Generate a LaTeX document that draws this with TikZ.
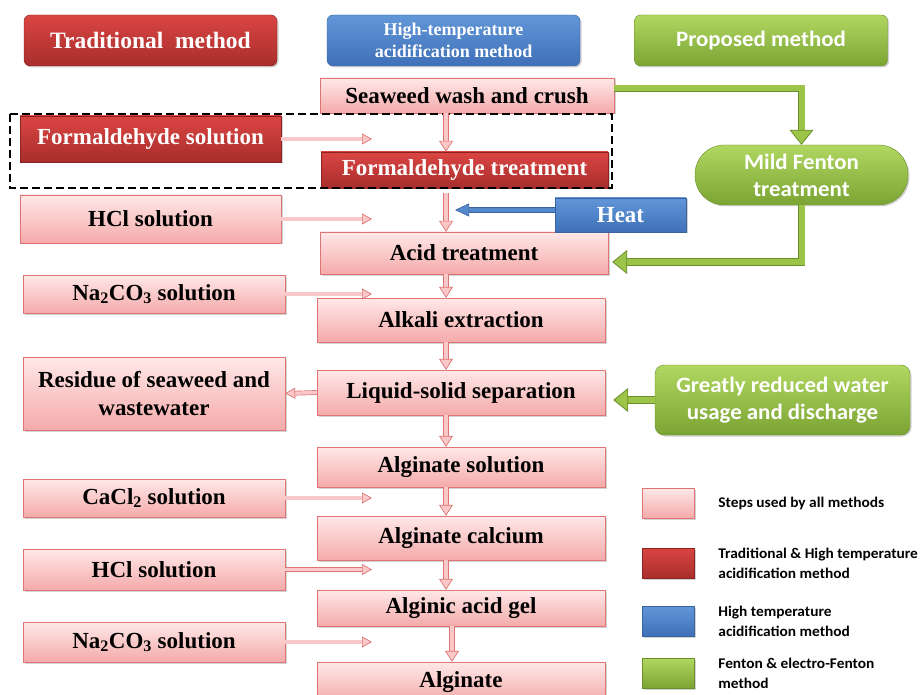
\documentclass[tikz,border=0pt]{standalone}
\usepackage{fontspec}
\setmainfont{Liberation Serif}
\newfontfamily\calib{Carlito}[FakeStretch=1.04]
\usetikzlibrary{arrows.meta,shadows,positioning}

\definecolor{pinktop}{HTML}{FFE8E8}
\definecolor{pinkbot}{HTML}{F5AAAA}
\definecolor{pinkmid}{HTML}{FAC8C8}
\definecolor{pinkline}{HTML}{DE7474}
\definecolor{redtop}{HTML}{DA4543}
\definecolor{redbot}{HTML}{A82E2C}
\definecolor{redline}{HTML}{8C2321}
\definecolor{bluetop}{HTML}{6196D8}
\definecolor{bluebot}{HTML}{3F70B8}
\definecolor{blueline}{HTML}{3A62A0}
\definecolor{bluemid}{HTML}{5488CC}
\definecolor{greentop}{HTML}{B0D760}
\definecolor{greenbot}{HTML}{7CA434}
\definecolor{greenline}{HTML}{6A8E2C}
\definecolor{greenmid}{HTML}{9CC449}

\tikzset{
  box/.style={rectangle, inner sep=2pt, align=center,
    font=\bfseries\fontsize{23}{28}\selectfont,
    drop shadow={shadow xshift=1.5pt,shadow yshift=-1.5pt,opacity=.35}},
  allbox/.style={box, draw=pinkline, top color=pinktop, bottom color=pinkbot, text=black},
  redbox/.style={box, draw=redline, top color=redtop, bottom color=redbot, text=white},
  bluebox/.style={box, draw=blueline, top color=bluetop, bottom color=bluebot, text=white},
  greenbox/.style={box, draw=greenline, top color=greentop, bottom color=greenbot, text=white,
    font=\calib\bfseries\fontsize{22}{27}\selectfont},
  head/.style={rounded corners=6pt, minimum width=253pt, minimum height=51pt},
  mainbox/.style={minimum width=288pt},
  sidebox/.style={minimum width=262pt},
  legsw/.style={minimum width=52pt, minimum height=30pt, inner sep=0pt},
  legtext/.style={inner sep=0pt, align=left, font=\calib\bfseries\fontsize{14.8}{20}\selectfont},
  dashframe/.style={draw=black, line width=2pt, dash pattern=on 8pt off 4pt},
  pinkarrow/.style={draw=pinkline, double=pinkmid, double distance=3.4pt, line width=.7pt,
    -{Triangle[line width=.7pt, fill=pinkmid, length=10pt, width=11pt]}},
  pinkdown/.style={draw=pinkline, double=pinkmid, double distance=4.6pt, line width=.7pt,
    -{Triangle[line width=.7pt, fill=pinkmid, length=11pt, width=14pt]}},
  bluearrow/.style={draw=blueline, double=bluemid, double distance=4pt, line width=.6pt,
    -{Triangle[line width=.6pt, fill=bluemid, length=14pt, width=13pt]}},
  greenarrow/.style={draw=greenline, double=greenmid, double distance=6pt, line width=.8pt,
    -{Triangle[line width=.8pt, fill=greenmid, length=15pt, width=24pt]}}
}

\begin{document}
\begin{tikzpicture}[x=1pt,y=-1pt]
\useasboundingbox (0,0) rectangle (921,695);

% method headers
\node[redbox, head, font=\bfseries\fontsize{23.5}{28}\selectfont] (trad) at (150.5,40.5) {Traditional\ \ method};
\node[bluebox, head, font=\bfseries\fontsize{18}{22}\selectfont] (hta) at (453.5,40.5) {High-temperature\\acidification method};
\node[greenbox, head] (prop) at (761,40.5) {Proposed method};

% main column
\node[allbox, minimum width=294pt, minimum height=35pt] (wash) at (467,95.5) {Seaweed wash and crush};
\node[redbox, minimum width=287pt, minimum height=36pt] (formtr) at (464.5,170) {Formaldehyde treatment};
\node[allbox, mainbox, minimum height=42pt] (acid) at (464,253) {Acid treatment};
\node[allbox, mainbox, minimum height=44pt] (alkali) at (461,320) {Alkali extraction};
\node[allbox, mainbox, minimum height=45pt] (liquid) at (461,392.5) {Liquid-solid separation};
\node[allbox, mainbox, minimum height=40pt] (algsol) at (461,467) {Alginate solution};
\node[allbox, mainbox, minimum height=44pt] (algca) at (461,538) {Alginate calcium};
\node[allbox, mainbox, minimum height=36pt] (gel) at (461,608) {Alginic acid gel};
\node[allbox, mainbox, minimum height=40pt] (alginate) at (461,682) {Alginate};

% inputs on the left
\node[redbox, sidebox, minimum width=261pt, minimum height=46pt] (formsol) at (150.5,139) {Formaldehyde solution};
\node[allbox, sidebox, minimum width=261pt, minimum height=48pt] (hcla) at (150.5,219) {HCl solution};
\node[allbox, sidebox, minimum height=38pt] (naa) at (154,294) {Na\textsubscript{2}CO\textsubscript{3} solution};
\node[allbox, sidebox, minimum height=73pt] (residue) at (154,393.5) {Residue of seaweed and\\wastewater};
\node[allbox, sidebox, minimum height=38pt] (cacl) at (154,498) {CaCl\textsubscript{2} solution};
\node[allbox, sidebox, minimum height=41pt] (hclb) at (154,569.5) {HCl solution};
\node[allbox, sidebox, minimum height=40pt] (nab) at (154,642) {Na\textsubscript{2}CO\textsubscript{3} solution};

% right side
\node[bluebox, minimum width=131pt, minimum height=34pt] (heat) at (620.5,215) {Heat};
\node[greenbox, minimum width=213pt, minimum height=60pt, rounded corners=29pt] (fenton) at (801.5,175) {Mild Fenton\\treatment};
\node[greenbox, minimum width=255pt, minimum height=70pt, rounded corners=9pt] (greatly) at (782.5,400) {Greatly reduced water\\usage and discharge};

\draw[dashframe] (10,114) rectangle (612,188);

\coordinate (axis) at (446,0);
\coordinate (axisb) at (452,0);
\coordinate (feed) at (372,0);
\coordinate (heatend) at (455,0);

% flow
\draw[pinkdown] (wash.south -| axis) -- (formtr.north -| axis);
\draw[pinkdown, shorten <=5pt] (formtr.south -| axis) -- (acid.north -| axis);
\draw[pinkdown] (acid.south -| axis) -- (alkali.north -| axis);
\draw[pinkdown] (alkali.south -| axis) -- (liquid.north -| axis);
\draw[pinkdown] (liquid.south -| axis) -- (algsol.north -| axis);
\draw[pinkdown] (algsol.south -| axis) -- (algca.north -| axis);
\draw[pinkdown] (algca.south -| axis) -- (gel.north -| axis);
\draw[pinkdown] (gel.south -| axisb) -- (alginate.north -| axisb);

\draw[pinkarrow] (formsol.east) -- (formsol.east -| feed);
\draw[pinkarrow] (hcla.east) -- (hcla.east -| feed);
\draw[pinkarrow] (naa.east) -- (naa.east -| feed);
\draw[pinkarrow] (cacl.east) -- (cacl.east -| feed);
\draw[pinkarrow] (hclb.east) -- (hclb.east -| feed);
\draw[pinkarrow] (nab.east) -- (nab.east -| feed);
\draw[pinkarrow] (liquid.west) -- (residue.east);

\draw[bluearrow] ([yshift=5pt]heat.west) -- ([yshift=5pt]heat.west -| heatend);

\draw[greenarrow] ([yshift=7pt]wash.east) -| (fenton.north);
\draw[greenarrow] (fenton.south) |- ([yshift=-9pt,xshift=4pt]acid.east);
\draw[greenarrow] (greatly.west) -- ([xshift=8pt]greatly.west -| liquid.east);

% legend
\node[allbox, legsw] (lg1) at (668,503) {};
\node[redbox, legsw] (lg2) at (668,563) {};
\node[bluebox, legsw] (lg3) at (668,621) {};
\node[greenbox, legsw] (lg4) at (668,673) {};
\node[legtext, right=24pt of lg1] (lt1) {Steps used by all methods};
\node[legtext, right=24pt of lg2] (lt2) {Traditional \& High temperature\\acidification method};
\node[legtext, right=24pt of lg3] (lt3) {High temperature\\acidification method};
\node[legtext, right=24pt of lg4] (lt4) {Fenton \& electro-Fenton\\method};
\end{tikzpicture}
\end{document}
